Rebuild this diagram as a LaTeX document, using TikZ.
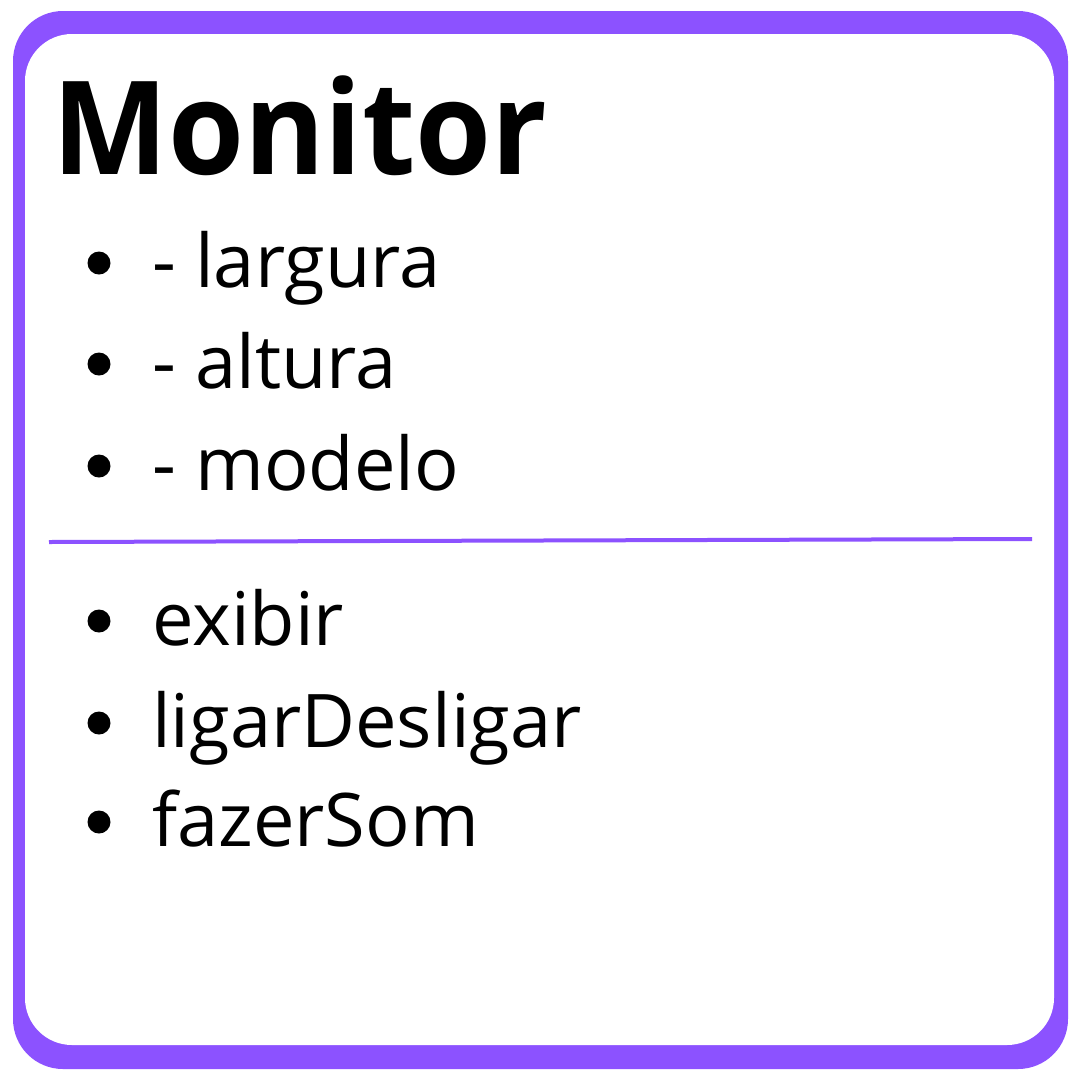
\documentclass[tikz,border=0pt]{standalone}
\usepackage{fontspec}
\setmainfont{Open Sans}
\definecolor{umlpurple}{HTML}{8C52FF}
\begin{document}
\begin{tikzpicture}[x=1pt,y=-1pt,
  item/.style={anchor=base west,inner sep=0pt,font=\fontsize{74}{80}\selectfont},
  dot/.style={circle,fill=black,inner sep=0pt,minimum size=23pt}]
\useasboundingbox (0,0) rectangle (1080,1080);
\fill[white] (0,0) rectangle (1080,1080);
\fill[umlpurple,rounded corners=50pt] (13,11) rectangle (1068,1069);
\fill[white,rounded corners=47pt] (25,34) rectangle (1054,1045);
\node[anchor=base west,inner sep=0pt,xscale=0.945,font=\fontsize{130}{140}\selectfont\bfseries] (title) at (52,174) {Monitor};
\coordinate (divL) at (49,542);
\coordinate (divR) at (1032,539);
\draw[umlpurple,line width=4pt] (divL) -- (divR);
\foreach \n/\y/\t in {a1/287/- largura,a2/388/- altura,a3/490/- modelo,m1/645/exibir,m2/747/ligarDesligar,m3/846/fazerSom}{
  \node[dot] (d\n) at (99,\y-24) {};
  \node[item] (t\n) at (152,\y) {\t};
}
\end{tikzpicture}
\end{document}
